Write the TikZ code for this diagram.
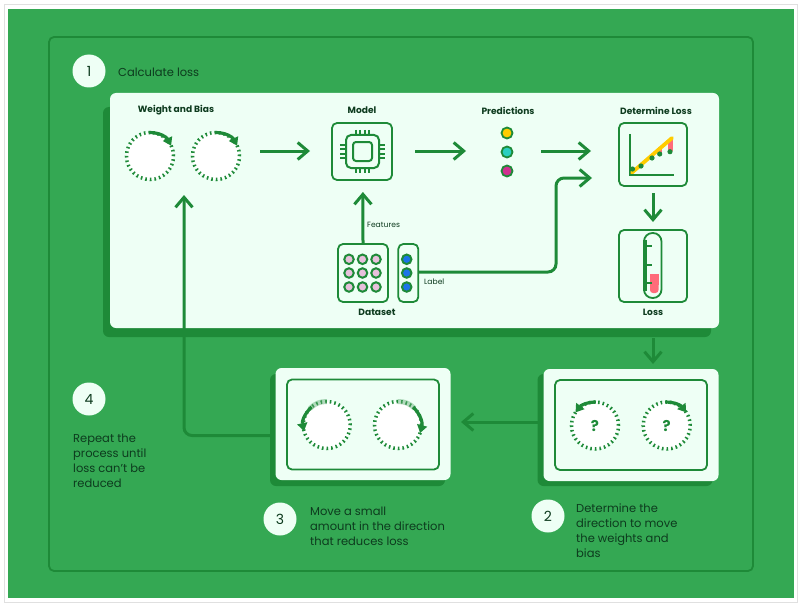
\documentclass[tikz,border=0pt]{standalone}
\usepackage{fontspec}
\setmainfont{Poppins}
\usetikzlibrary{arrows.meta, positioning, calc}
\definecolor{bggreen}{HTML}{34A853}
\definecolor{linegreen}{HTML}{1E8A38}
\definecolor{cardbg}{HTML}{EEFFF5}
\definecolor{inkgreen}{HTML}{0D3B1E}
\definecolor{lossred}{HTML}{FF6B7A}
\definecolor{predyellow}{HTML}{FFCC00}
\definecolor{predteal}{HTML}{2ACFC0}
\definecolor{predpink}{HTML}{D0308F}
\definecolor{featpink}{HTML}{E8C0DC}
\definecolor{labelblue}{HTML}{1A73E8}
\tikzset{
>={Straight Barb[length=10pt,width=17pt]}, % open heads on all the flow arrows
flow/.style={->, line width=3pt, draw=linegreen, rounded corners=8pt}, % connectors
turn/.style={-{Triangle[length=8pt,width=10pt]}, line width=3.2pt, draw=linegreen}, % arrow on a dial
fade/.style={line width=5pt, draw=linegreen!70!white, opacity=0.45}, % pale band on a dial
card/.style={fill=cardbg, rounded corners=6pt, inner sep=0pt}, % light panels
shade/.style={fill=linegreen, rounded corners=6pt, inner sep=0pt}, % panel shadows
frame/.style={draw=linegreen, line width=1.8pt, rounded corners=5pt, inner sep=0pt}, % outlined boxes
dialface/.style={circle, fill=white, draw=linegreen, line width=3.5pt, dash pattern=on 1.6pt off 3pt, minimum size=47pt, inner sep=0pt, outer sep=0pt, text=linegreen, font=\fontsize{15}{15}\selectfont\bfseries}, % ticked dial
badge/.style={circle, fill=cardbg, minimum size=33pt, inner sep=0pt, text=inkgreen, font=\fontsize{14}{14}\selectfont}, % step numbers
title/.style={text=inkgreen, inner sep=0pt, font=\fontsize{9.1}{10}\selectfont\bfseries}, % headings in the cards
small/.style={text=inkgreen, inner sep=0pt, font=\fontsize{7.6}{9}\selectfont}, % arrow labels
body/.style={text=inkgreen, inner sep=0pt, align=left, font=\fontsize{11.5}{14.8}\selectfont}, % step texts
dot/.style={circle, draw=linegreen, line width=1.8pt, minimum size=11pt, inner sep=0pt}, % data points
}
\newcommand{\dial}[3]{\node[dialface] (#1) at (#2) {#3};}

\begin{document}
\begin{tikzpicture}[x=1pt, y=-1pt]
    \useasboundingbox (0,0) rectangle (808,607);
    \fill[white] (0,0) rectangle (808,607);
    \draw[black!12, line width=1pt] (4.5,5) rectangle (797,602);
    \fill[bggreen] (8,9) rectangle (793.5,598);
    \node[frame, minimum width=704, minimum height=534] (outer) at (401,304) {};

    % step badges and texts
    \node[badge] (one) at (89,71) {1};
    \node[body, anchor=west] (onetext) at (118,72) {Calculate loss};
    \node[badge] (four) at (89,399) {4};
    \node[body, anchor=north west] (fourtext) at (73,434) {Repeat the\\process until\\loss can't be\\reduced};
    \node[badge] (three) at (280,519) {3};
    \node[body, anchor=north west] (threetext) at (310,507) {Move a small\\amount in the direction\\that reduces loss};
    \node[badge] (two) at (548,516) {2};
    \node[body, anchor=north west] (twotext) at (576,504) {Determine the\\direction to move\\the weights and\\bias};

    % panels
    \node[shade, minimum width=608, minimum height=230] (mainshade) at (407,222) {};
    \node[card, minimum width=609, minimum height=235] (main) at (414.5,210.5) {};
    \node[shade, minimum width=175, minimum height=112] (movshade) at (357.5,430) {};
    \node[card, minimum width=175, minimum height=112] (mov) at (363,424) {};
    \node[frame, minimum width=152, minimum height=90] (movin) at (363,424.5) {};
    \node[shade, minimum width=175, minimum height=112] (dirshade) at (625,430) {};
    \node[card, minimum width=175, minimum height=112] (dir) at (631,425) {};
    \node[frame, minimum width=152, minimum height=90] (dirin) at (631,425) {};

    % titles
    \node[title] (wbtitle) at (176,110.5) {Weight and Bias};
    \node[title] (modeltitle) at (362,110.5) {Model};
    \node[title] (predtitle) at (508,110.5) {Predictions};
    \node[title] (losstitle) at (656,110.5) {Determine Loss};

    % dials
    \dial{weight}{150,156}{}
    \dial{bias}{216,156}{}
    \draw[turn] (weight.90) to[bend left=31] (weight.26);
    \draw[turn] (bias.90) to[bend left=31] (bias.26);
    \dial{movw}{326.7,425}{}
    \dial{movb}{398,425}{}
    \draw[fade] (movw.90) to[bend right=22] (movw.135);
    \draw[fade] (movb.90) to[bend left=22] (movb.45);
    \draw[turn] (movw.130) to[bend right=30] (movw.195);
    \draw[turn] (movb.50) to[bend left=30] (movb.-20);
    \dial{dirw}{595,425.5}{?}
    \dial{dirb}{666.7,425.5}{?}
    \draw[turn] (dirw.88) to[bend right=26] (dirw.146);
    \draw[turn] (dirb.92) to[bend left=26] (dirb.34);

    % model chip
    \node[frame, minimum width=60, minimum height=57] (model) at (362,151.5) {};
    \foreach \k in {-6.6,-2.2,2.2,6.6} {
        \draw[linegreen, line width=1.8pt] (362.5+\k,130) -- (362.5+\k,173);
        \draw[linegreen, line width=1.8pt] (340,151.5+\k) -- (385,151.5+\k);
    }
    \node[frame, fill=cardbg, line width=2pt, minimum width=33, minimum height=33] (chip) at (362.5,151.5) {};
    \node[frame, line width=2pt, minimum width=19, minimum height=19, rounded corners=3pt] (core) at (362.5,151.5) {};

    % predictions
    \node[dot, fill=predyellow] (py) at (507,133) {};
    \node[dot, fill=predteal, below=6.2pt of py] (pt) {};
    \node[dot, fill=predpink, below=6.2pt of pt] (pm) {};

    % dataset
    \node[frame, minimum width=50, minimum height=58] (data) at (363,273) {};
    \node[frame, minimum width=20, minimum height=58, right=8.5pt of data] (labels) {};
    \foreach \i/\x in {1/349,2/362.5,3/376} {
        \foreach \j/\y in {1/259.3,2/273,3/287} {
            \node[dot, fill=featpink, line width=2pt, minimum size=9.5pt] (d\i\j) at (\x,\y) {};
        }
    }
    \foreach \j/\y in {1/259.3,2/273,3/287} {
        \node[dot, fill=labelblue, line width=2pt, minimum size=9.5pt] (l\j) at (406.7,\y) {};
    }
    \node[title] (datatitle) at (377,312.5) {Dataset};
    \node[small, anchor=west] (featurestext) at (367,225) {Features};
    \node[small, anchor=west] (labeltext) at (424,281.5) {Label};

    % chart
    \node[frame, minimum width=68, minimum height=63] (chart) at (653,154.5) {};
    \fill[lossred] (668,139) rectangle (672.5,151);
    \fill[lossred] (658,147) rectangle (662,154);
    \draw[linegreen, line width=2pt] (630,134) -- (630,175) -- (674,175);
    \draw[predyellow, line width=3.8pt, line cap=round] (632,172.5) -- (672,138);
    \foreach \x/\y in {632.5/169,641/166,652/158,659.7/154,670/151.7} {
        \fill[linegreen] (\x,\y) circle (2.6pt);
    }

    % thermometer
    \node[frame, minimum width=68, minimum height=72] (loss) at (653,266) {};
    \fill[lossred, rounded corners=3pt] (650,274) rectangle (658.5,293);
    \fill[lossred] (650,274) rectangle (658.5,285);
    \draw[linegreen, line width=1.8pt, rounded corners=8.5pt] (644,233) rectangle (661.5,298);
    \draw[linegreen, line width=3.6pt] (645.2,240) -- (645.2,291);
    \foreach \y in {246,264.7,283.3} {
        \draw[linegreen, line width=1.8pt] (645,\y) -- (651.5,\y);
    }
    \node[title] (lossname) at (653,312.5) {Loss};

    % connectors
    \coordinate (dialsout) at (260,151);
    \coordinate (modelin) at (310,151);
    \coordinate (predout) at (415,151);
    \coordinate (predin) at (466,151);
    \coordinate (lossin) at (591,151);
    \coordinate (lossfrom) at (541,151);
    \coordinate (labelin) at (592,178);
    \coordinate (movout) at (270,435.5);
    \coordinate (dirout) at (538,422);
    \draw[flow] (dialsout) -- (modelin);
    \draw[flow] (predout) -- (predin);
    \draw[flow] (lossfrom) -- (lossin);
    \draw[flow] (data.north) -- (362.9,192);
    \draw[flow] (labels.east |- 0,272) -- (556,272) -- (556,178) -- (labelin);
    \draw[flow] (653,193) -- (653,222);
    \draw[flow] (653,338) -- (653,364);
    \draw[flow] (dirout) -- (461,422);
    \draw[flow] (movout) -- (184,435.5) -- (184,195);
\end{tikzpicture}
\end{document}
